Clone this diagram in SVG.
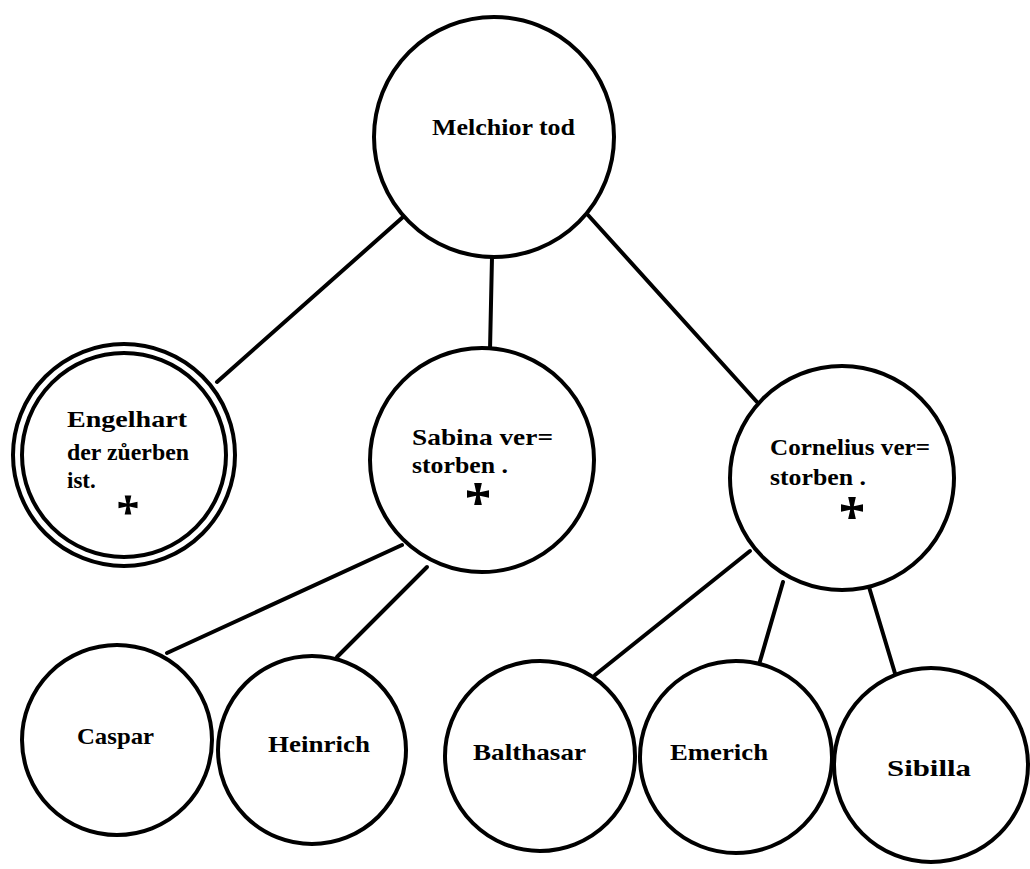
<svg xmlns="http://www.w3.org/2000/svg" width="1030" height="869" viewBox="0 0 1030 869">
<defs>
<style>
.node{fill:#fff;stroke:#000;stroke-width:4}
.edge{stroke:#000;stroke-width:4;stroke-linecap:round;fill:none}
.lbl{font-family:"Liberation Serif","DejaVu Serif",serif;font-weight:bold;font-size:23px;fill:#000}
.cross{fill:#000}
</style>
<path id="cr" d="M-3.5,-10 L3.5,-10 L1.6,-1.6 L10,-3.5 L10,3.5 L1.6,1.6 L3.5,10 L-3.5,10 L-1.6,1.6 L-10,3.5 L-10,-3.5 L-1.6,-1.6 Z"/>
</defs>
<rect width="1030" height="869" fill="#fff"/>
<g id="connectors">
<line class="edge" x1="403" y1="217" x2="217" y2="382"/>
<line class="edge" x1="492" y1="257" x2="490" y2="350"/>
<line class="edge" x1="588" y1="215" x2="757" y2="402"/>
<line class="edge" x1="402" y1="545" x2="167" y2="653"/>
<line class="edge" x1="427" y1="567" x2="337" y2="657"/>
<line class="edge" x1="750" y1="551" x2="595" y2="675"/>
<line class="edge" x1="783" y1="582" x2="758" y2="668"/>
<line class="edge" x1="869" y1="587" x2="897" y2="680"/>
</g>
<g id="melchior">
<circle class="node" cx="494" cy="137" r="120"/>
<text class="lbl" x="432" y="135" font-size="24" textLength="143" lengthAdjust="spacingAndGlyphs">Melchior tod</text>
</g>
<g id="engelhart">
<circle class="node" cx="124" cy="455" r="111" stroke-width="4.5"/>
<circle class="node" cx="124" cy="455" r="102" stroke-width="3"/>
<text class="lbl" x="67" y="427" textLength="120" lengthAdjust="spacingAndGlyphs">Engelhart</text>
<text class="lbl" x="67" y="460" textLength="122" lengthAdjust="spacingAndGlyphs">der zůerben</text>
<text class="lbl" x="67" y="488">ist.</text>
<use href="#cr" class="cross" transform="translate(128,505) scale(0.95)"/>
</g>
<g id="sabina">
<circle class="node" cx="482" cy="460" r="112"/>
<text class="lbl" x="412" y="445" textLength="141" lengthAdjust="spacingAndGlyphs">Sabina ver=</text>
<text class="lbl" x="412" y="473" textLength="96" lengthAdjust="spacingAndGlyphs">storben .</text>
<use href="#cr" class="cross" transform="translate(478,494) scale(1.1)"/>
</g>
<g id="cornelius">
<circle class="node" cx="842" cy="478" r="112"/>
<text class="lbl" x="770" y="455" textLength="160" lengthAdjust="spacingAndGlyphs">Cornelius ver=</text>
<text class="lbl" x="770" y="485" textLength="96" lengthAdjust="spacingAndGlyphs">storben .</text>
<use href="#cr" class="cross" transform="translate(852,508) scale(1.1)"/>
</g>
<g id="caspar">
<circle class="node" cx="117" cy="740" r="95" stroke-width="5"/>
<text class="lbl" x="77" y="744" textLength="77" lengthAdjust="spacingAndGlyphs">Caspar</text>
</g>
<g id="heinrich">
<circle class="node" cx="312" cy="750" r="94"/>
<text class="lbl" x="268" y="752" textLength="102" lengthAdjust="spacingAndGlyphs">Heinrich</text>
</g>
<g id="balthasar">
<circle class="node" cx="540" cy="756" r="95"/>
<text class="lbl" x="473" y="760" textLength="113" lengthAdjust="spacingAndGlyphs">Balthasar</text>
</g>
<g id="emerich">
<circle class="node" cx="736" cy="757" r="96"/>
<text class="lbl" x="670" y="760" textLength="98" lengthAdjust="spacingAndGlyphs">Emerich</text>
</g>
<g id="sibilla">
<circle class="node" cx="931" cy="765" r="97" stroke-width="4.5"/>
<text class="lbl" x="887" y="776" textLength="84" lengthAdjust="spacingAndGlyphs">Sibilla</text>
</g>
</svg>
